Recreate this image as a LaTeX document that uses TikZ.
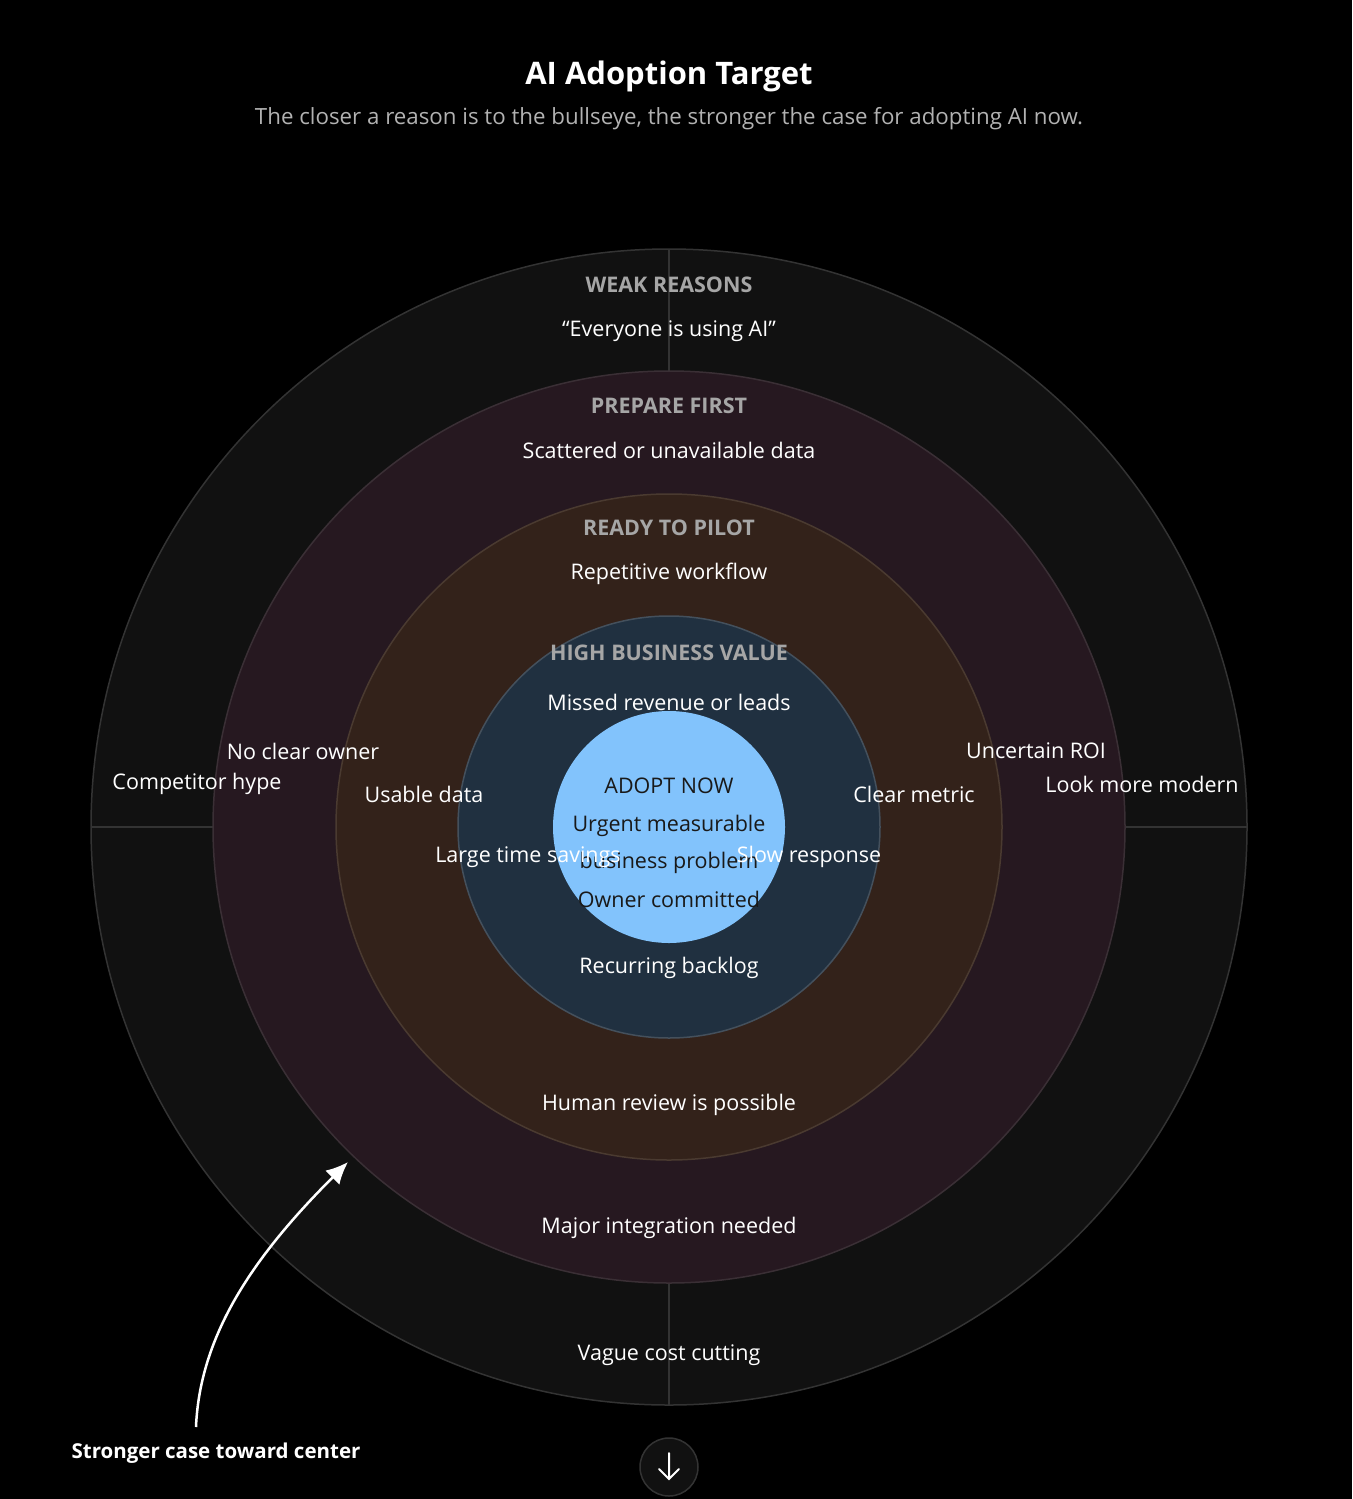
\documentclass[tikz,border=0pt]{standalone}
\usepackage{fontspec}
\setmainfont{Open Sans}
\usetikzlibrary{arrows.meta}
\begin{document}
\begin{tikzpicture}[x=1pt,y=-1pt,
 lab/.style={text=white,font=\fontsize{21.5}{25}\selectfont},
 hd/.style={text=gray!70!white,font=\fontsize{21.5}{25}\selectfont\bfseries},
 cl/.style={text=black!90,font=\fontsize{21.5}{25}\selectfont}]
\definecolor{c1}{HTML}{111111}\definecolor{c2}{HTML}{261820}
\definecolor{c3}{HTML}{33221A}\definecolor{c4}{HTML}{203040}
\definecolor{c5}{HTML}{82C3FC}\definecolor{bd}{HTML}{333333}
\definecolor{bd2}{HTML}{3A2F35}\definecolor{bd3}{HTML}{4A3A30}\definecolor{bd4}{HTML}{44505C}
\fill[black] (0,0) rectangle (1352,1499);
\useasboundingbox (0,0) rectangle (1352,1499);
\coordinate (c) at (669,827);
\fill[c1,draw=bd,line width=1.5pt] (c) circle (578);
\draw[bd,line width=1.5pt] (669,249)--(669,372) (669,1282)--(669,1405) (91,827)--(213,827) (1125,827)--(1247,827);
\filldraw[fill=c2,draw=bd2,line width=1.5pt] (c) circle (456);
\filldraw[fill=c3,draw=bd3,line width=1.5pt] (c) circle (333);
\filldraw[fill=c4,draw=bd4,line width=1.5pt] (c) circle (211);
\fill[c5] (c) circle (116);
\node[text=white,font=\fontsize{31}{36}\selectfont\bfseries] (t) at (669,76) {AI Adoption Target};
\node[text=gray!60!white,font=\fontsize{22.3}{26}\selectfont] (st) at (669,119) {The closer a reason is to the bullseye, the stronger the case for adopting AI now.};
\node[hd] (h1) at (669,285) {WEAK REASONS};
\node[lab] at (669,331) {“Everyone is using AI”};
\node[hd] (h2) at (669,406) {PREPARE FIRST};
\node[lab] at (669,450) {Scattered or unavailable data};
\node[hd] (h3) at (669,528) {READY TO PILOT};
\node[lab] at (669,574) {Repetitive workflow};
\node[hd] (h4) at (669,653) {HIGH BUSINESS VALUE};
\node[lab] at (669,702) {Missed revenue or leads};
\node[cl] at (669,786) {ADOPT NOW};
\node[cl] at (669,826) {Urgent measurable};
\node[cl] at (669,863) {business problem};
\node[cl] at (669,899) {Owner committed};
\node[lab] at (303,751) {No clear owner};
\node[lab] at (197,784) {Competitor hype};
\node[lab] at (424,794) {Usable data};
\node[lab] at (1036,751) {Uncertain ROI};
\node[lab] at (1142,784) {Look more modern};
\node[lab] at (914,794) {Clear metric};
\node[lab] at (528,857) {Large time savings};
\node[lab] at (809,857) {Slow response};
\node[lab] at (669,968) {Recurring backlog};
\node[lab] at (669,1105) {Human review is possible};
\node[lab] at (669,1228) {Major integration needed};
\node[lab] at (669,1355) {Vague cost cutting};
\node[text=white,font=\fontsize{20.5}{24}\selectfont\bfseries] (sc) at (216,1453) {Stronger case toward center};
\coordinate (a0) at (196,1427); \coordinate (a1) at (348,1162);
\draw[white,line width=2.5pt,-{Latex[length=22pt,width=20pt]}] (a0) .. controls (200,1330) and (260,1250) .. (a1);
\node[circle,minimum size=58pt,fill=c1,draw=bd,line width=1.5pt] (btn) at (669,1467) {};
\coordinate (d0) at (669,1453); \coordinate (d1) at (669,1479);
\draw[white,line width=2pt,line cap=round] (d0)--(d1) (659,1469)--(d1)--(679,1469);
\end{tikzpicture}
\end{document}
